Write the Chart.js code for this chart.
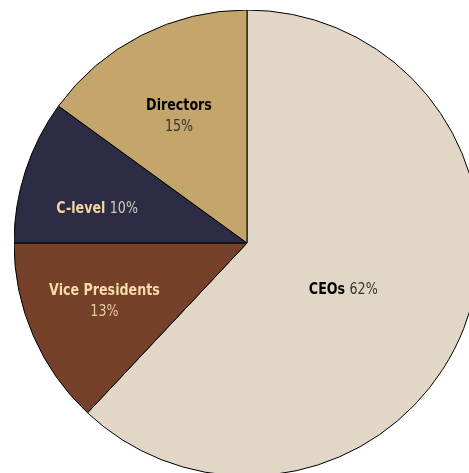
<!DOCTYPE html>
<html>
<head>
<meta charset="utf-8">
<script src="https://cdn.jsdelivr.net/npm/chart.js@4.4.1/dist/chart.umd.min.js"></script>
<style>
  html, body { margin: 0; padding: 0; background: #fff; overflow: hidden; width: 469px; height: 473px; }
  #wrap { position: absolute; left: 14px; top: 10px; width: 466px; height: 466px; }
</style>
</head>
<body>
<div id="wrap"><canvas id="chart1" width="466" height="466"></canvas></div>
<script>
const categories = ['CEOs', 'Vice Presidents', 'C-level', 'Directors'];
const shares = [62, 13, 10, 15];
const sliceColors = ['#e2d7c6', '#76412a', '#2c2c44', '#c4a56c'];

// label look per slice: name colour, percent colour, two lines or one
const nameColors = ['#000000', '#f6dca6', '#f3d7a0', '#000000'];
const pctColors = ['#333333', '#e9cc9e', '#d2cbbd', '#333333'];
const twoLines = [false, true, false, true];
// where inside its slice each label sits (share of radius, share of sweep)
const labelDist = [0.46, 0.66, 0.66, 0.62];
const labelSweep = [0.52, 0.53, 0.36, 0.48];

const fontFamily = '"DejaVu Sans Condensed", "Liberation Sans Narrow", "Liberation Sans", sans-serif';
const squeeze = 0.88;

const sliceLabels = {
    id: 'sliceLabels',
    afterDatasetsDraw(chart) {
        const ctx = chart.ctx;
        const meta = chart.getDatasetMeta(0);
        meta.data.forEach((arc, i) => {
            const p = arc.getProps(['x', 'y', 'startAngle', 'endAngle', 'outerRadius'], true);
            const ang = p.startAngle + (p.endAngle - p.startAngle) * labelSweep[i];
            const r = p.outerRadius * labelDist[i];
            const px = p.x + Math.cos(ang) * r;
            const py = p.y + Math.sin(ang) * r;
            const name = categories[i];
            const pct = shares[i] + '%';
            const boldFont = 'bold 16px ' + fontFamily;
            const lightFont = '16px ' + fontFamily;
            ctx.save();
            ctx.translate(px, py);
            ctx.scale(squeeze, 1);
            ctx.textBaseline = 'middle';
            if (twoLines[i]) {
                ctx.textAlign = 'center';
                ctx.font = boldFont;
                ctx.fillStyle = nameColors[i];
                ctx.fillText(name, 0, -10);
                ctx.font = lightFont;
                ctx.fillStyle = pctColors[i];
                ctx.fillText(pct, 0, 11);
            } else {
                ctx.font = boldFont;
                const w1 = ctx.measureText(name + ' ').width;
                ctx.font = lightFont;
                const w2 = ctx.measureText(pct).width;
                const x0 = -(w1 + w2) / 2;
                ctx.textAlign = 'left';
                ctx.font = boldFont;
                ctx.fillStyle = nameColors[i];
                ctx.fillText(name, x0, 0);
                ctx.font = lightFont;
                ctx.fillStyle = pctColors[i];
                ctx.fillText(pct, x0 + w1, 0);
            }
            ctx.restore();
        });
    }
};

const ctx1 = document.getElementById('chart1').getContext('2d');
const chart1 = new Chart(ctx1, {
    type: 'pie',
    data: {
        labels: categories,
        datasets: [{
            data: shares,
            backgroundColor: sliceColors,
            borderColor: '#000000',
            borderWidth: 1
        }]
    },
    options: {
        responsive: false,
        animation: false,
        events: [],
        radius: 233,
        layout: { padding: 0 },
        plugins: {
            legend: { display: false },
            tooltip: { enabled: false }
        }
    },
    plugins: [sliceLabels]
});
</script>
</body>
</html>
